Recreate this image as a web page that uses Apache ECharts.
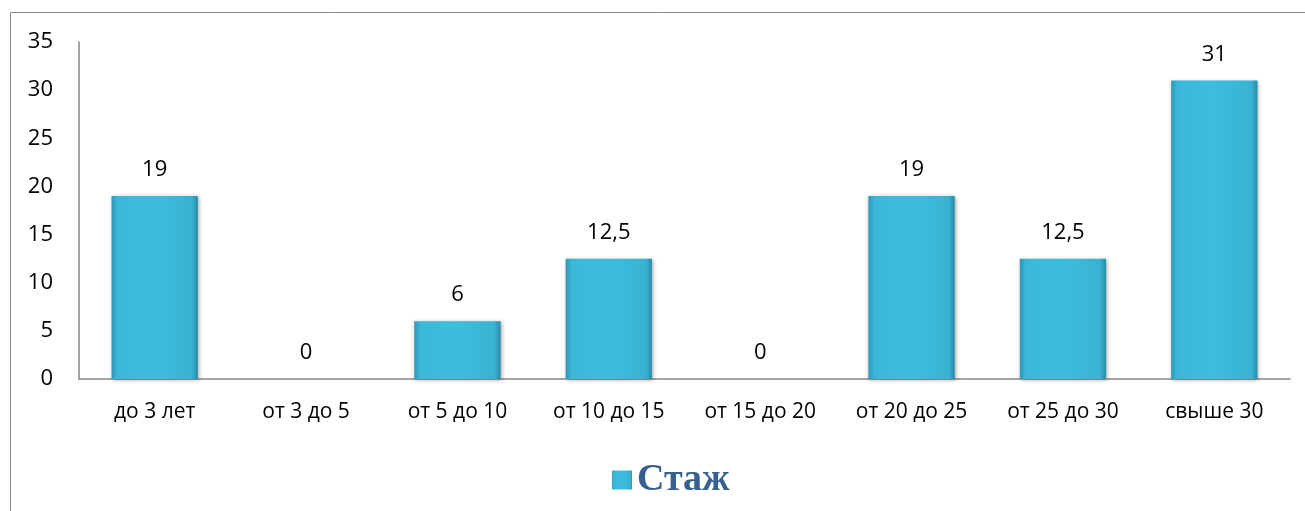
<!DOCTYPE html>
<html>
<head>
<meta charset="utf-8">
<script src="https://cdn.jsdelivr.net/npm/echarts@6/dist/echarts.min.js"></script>
<style>
  html, body { margin: 0; padding: 0; background: #fff; }
  #main { width: 1305px; height: 511px; }
</style>
</head>
<body>
<div id="main"></div>
<script>
var categories = ['до 3 лет', 'от 3 до 5', 'от 5 до 10', 'от 10 до 15', 'от 15 до 20', 'от 20 до 25', 'от 25 до 30', 'свыше 30'];
var stazh = [19, 0, 6, 12.5, 0, 19, 12.5, 31];
var yTicks = [0, 5, 10, 15, 20, 25, 30, 35];

var myChart = echarts.init(document.getElementById('main'));

var barColor = new echarts.graphic.LinearGradient(0, 0, 1, 0, [
    { offset: 0, color: '#2a98b6' },
    { offset: 0.07, color: '#3bb8d8' },
    { offset: 0.5, color: '#3dbddd' },
    { offset: 0.93, color: '#38b3d2' },
    { offset: 1, color: '#2a8aa3' }
]);

option = {
    animation: false,
    graphic: [{
        type: 'rect',
        shape: { x: 10.5, y: 12.5, width: 1320, height: 540 },
        style: { fill: 'none', stroke: '#898989', lineWidth: 1 },
        silent: true
    }],
    legend: {
        data: ['Стаж'],
        left: 607,
        top: 456,
        icon: 'rect',
        itemWidth: 20,
        itemHeight: 19,
        itemGap: 8,
        textStyle: {
            fontFamily: 'Liberation Serif',
            fontWeight: 'bold',
            fontSize: 38,
            color: '#376092'
        }
    },
    grid: {
        left: 79,
        right: 15,
        top: 42,
        bottom: 132,
        containLabel: false
    },
    xAxis: {
        type: 'category',
        data: categories,
        axisLine: { lineStyle: { color: '#868686', width: 1.5 } },
        axisTick: { show: false },
        axisLabel: {
            interval: 0,
            hideOverlap: false,
            margin: 23,
            fontFamily: 'Open Sans',
            fontSize: 21,
            color: '#000'
        }
    },
    yAxis: {
        type: 'value',
        min: yTicks[0],
        max: yTicks[yTicks.length - 1],
        interval: 5,
        axisLine: { show: true, lineStyle: { color: '#868686', width: 1.5 } },
        axisTick: { show: false },
        splitLine: { show: false },
        axisLabel: {
            margin: 26,
            fontFamily: 'Open Sans',
            fontSize: 22,
            color: '#000'
        }
    },
    series: [{
        name: 'Стаж',
        type: 'bar',
        barWidth: '57%',
        data: stazh,
        itemStyle: {
            color: barColor,
            borderWidth: 0,
            shadowBlur: 4,
            shadowColor: 'rgba(0,0,0,0.35)',
            shadowOffsetX: 1,
            shadowOffsetY: 1
        },
        label: {
            show: true,
            position: 'top',
            distance: 15,
            fontFamily: 'Open Sans',
            fontSize: 22,
            color: '#000',
            formatter: function (p) { return String(p.value).replace('.', ','); }
        }
    }]
};
myChart.setOption(option);
</script>
</body>
</html>
